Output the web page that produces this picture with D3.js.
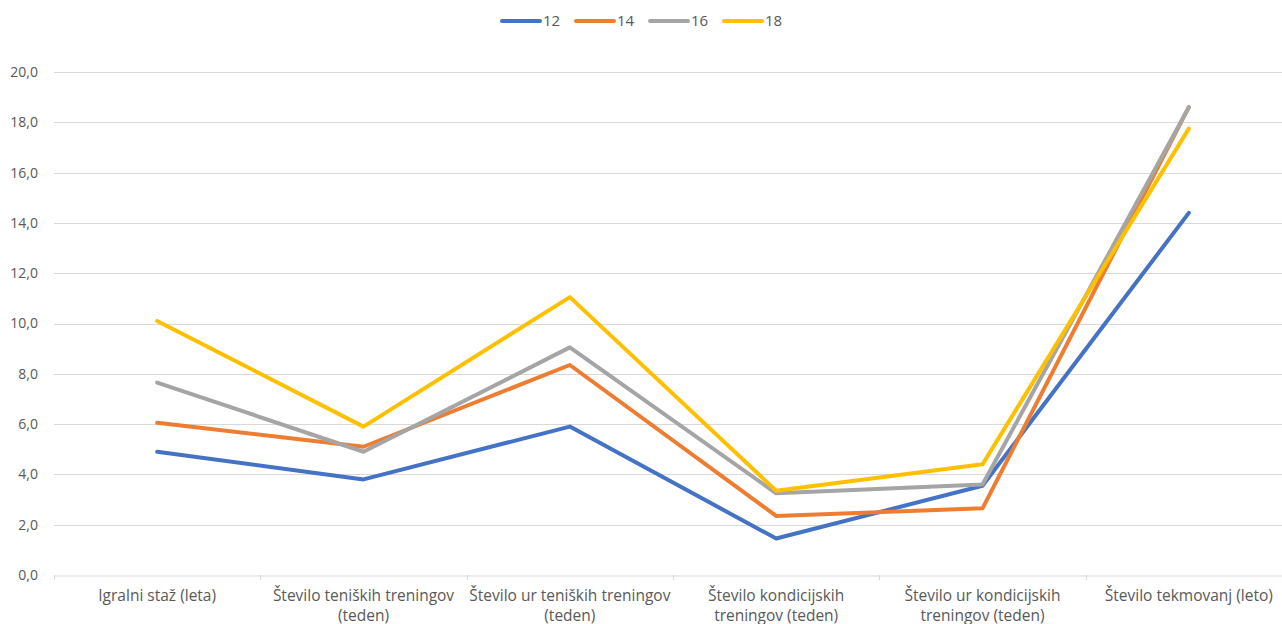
<!DOCTYPE html>
<html>
<head>
<meta charset="utf-8">
<script src="https://cdn.jsdelivr.net/npm/d3@7"></script>
<style>
  body { margin: 0; background: #fff; overflow: hidden; }
  text { font-family: "Open Sans", "Noto Sans", sans-serif; fill: #595959; }
</style>
</head>
<body>
<div id="chart"></div>
<script>
var categories = [
  ["Igralni staž (leta)"],
  ["Število teniških treningov", "(teden)"],
  ["Število ur teniških treningov", "(teden)"],
  ["Število kondicijskih", "treningov (teden)"],
  ["Število ur kondicijskih", "treningov (teden)"],
  ["Število tekmovanj (leto)"]
];
var seriesNames = ["12", "14", "16", "18"];
var values12 = [4.9, 3.8, 5.9, 1.45, 3.55, 14.4];
var values14 = [6.05, 5.1, 8.35, 2.35, 2.65, 18.6];
var values16 = [7.65, 4.9, 9.05, 3.25, 3.6, 18.6];
var values18 = [10.1, 5.9, 11.05, 3.35, 4.4, 17.75];
var yTicks = [0, 2, 4, 6, 8, 10, 12, 14, 16, 18, 20];
var colors = ["#4472C4", "#ED7D31", "#A5A5A5", "#FFC000"];

var series = [values12, values14, values16, values18];

var width = 1282, height = 624;
var margin = { top: 72, left: 54, bottom: 49 };
var plotW = 1238;

var svg = d3.select("#chart").append("svg")
    .attr("width", width)
    .attr("height", height);

var x = d3.scaleBand()
    .domain(d3.range(categories.length))
    .range([margin.left, margin.left + plotW]);

var y = d3.scaleLinear()
    .domain([0, 20])
    .range([height - margin.bottom, margin.top]);

// gridlines
svg.append("g").selectAll("line")
    .data(yTicks.filter(function (d) { return d > 0; }))
    .enter().append("line")
    .attr("x1", margin.left)
    .attr("x2", margin.left + plotW)
    .attr("y1", function (d) { return Math.round(y(d)) + 0.5; })
    .attr("y2", function (d) { return Math.round(y(d)) + 0.5; })
    .style("stroke", "#d9d9d9")
    .style("stroke-width", 1);

// y labels
svg.append("g").selectAll("text")
    .data(yTicks)
    .enter().append("text")
    .attr("x", 38)
    .attr("y", function (d) { return y(d); })
    .attr("dy", "0.35em")
    .attr("text-anchor", "end")
    .style("font-size", "14px")
    .text(function (d) { return d.toFixed(1).replace(".", ","); });

// x axis
var xAxis = d3.axisBottom(x).tickSize(0).tickFormat("");
var gx = svg.append("g")
    .attr("transform", "translate(0," + (Math.round(y(0)) + 0.5) + ")")
    .call(xAxis);
gx.select(".domain").style("stroke", "#d9d9d9");

svg.append("g").selectAll("line")
    .data(d3.range(categories.length + 1))
    .enter().append("line")
    .attr("x1", function (d) { return Math.round(margin.left + d * x.step()) + 0.5; })
    .attr("x2", function (d) { return Math.round(margin.left + d * x.step()) + 0.5; })
    .attr("y1", y(0))
    .attr("y2", y(0) + 5)
    .style("stroke", "#d9d9d9");

var labels = svg.append("g").selectAll("text")
    .data(categories)
    .enter().append("text")
    .attr("text-anchor", "middle")
    .attr("x", function (d, i) { return x(i) + x.bandwidth() / 2; })
    .attr("y", 601)
    .style("font-size", "15.5px");

labels.selectAll("tspan")
    .data(function (d, i) { return d.map(function (t) { return { t: t, i: i }; }); })
    .enter().append("tspan")
    .attr("x", function (d) { return x(d.i) + x.bandwidth() / 2; })
    .attr("dy", function (d, j) { return j === 0 ? 0 : 20; })
    .text(function (d) { return d.t; });

// lines
var line = d3.line()
    .x(function (d, i) { return x(i) + x.bandwidth() / 2; })
    .y(function (d) { return y(d); });

svg.append("g").selectAll("path")
    .data(series)
    .enter().append("path")
    .attr("d", line)
    .style("fill", "none")
    .style("stroke", function (d, i) { return colors[i]; })
    .style("stroke-width", 4)
    .style("stroke-linejoin", "round")
    .style("stroke-linecap", "round");

// legend
var legend = svg.append("g").selectAll("g")
    .data(seriesNames)
    .enter().append("g")
    .attr("transform", function (d, i) { return "translate(" + (502 + i * 74) + ",21)"; });

legend.append("line")
    .attr("x1", 0).attr("x2", 38)
    .style("stroke", function (d, i) { return colors[i]; })
    .style("stroke-width", 4)
    .style("stroke-linecap", "round");

legend.append("text")
    .attr("x", 41)
    .attr("dy", "0.35em")
    .style("font-size", "15px")
    .text(function (d) { return d; });
</script>
</body>
</html>
